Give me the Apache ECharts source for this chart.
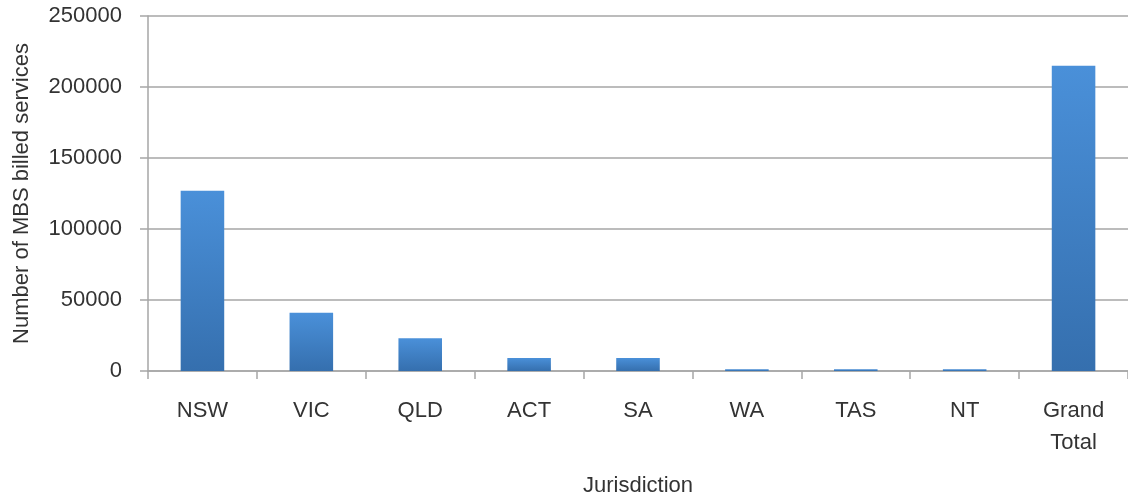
<!DOCTYPE html>
<html>
<head>
<meta charset="utf-8">
<script src="https://cdn.jsdelivr.net/npm/echarts@6/dist/echarts.min.js"></script>
<style>
  html, body { margin: 0; padding: 0; background: #fff; }
  #chart { width: 1128px; height: 499px; }
</style>
</head>
<body>
<div id="chart"></div>
<script>
// jurisdictions and billed service counts
var categories = ['NSW', 'VIC', 'QLD', 'ACT', 'SA', 'WA', 'TAS', 'NT', 'Grand\nTotal'];
var services = [127000, 41000, 23000, 9200, 9200, 1300, 1300, 1300, 215000];
var yTicks = [0, 50000, 100000, 150000, 200000, 250000];

var chart = echarts.init(document.getElementById('chart'));

var textColor = '#333333';
var lineColor = '#a6a6a6';

var option = {
  animation: false,
  grid: {
    left: 148,
    right: 0,
    top: 16,
    bottom: 128,
    outerBoundsMode: 'none'
  },
  xAxis: {
    type: 'category',
    data: categories,
    name: 'Jurisdiction',
    nameLocation: 'middle',
    nameGap: 104,
    nameTextStyle: {
      fontFamily: 'Liberation Sans',
      fontSize: 22,
      color: textColor
    },
    axisLine: { lineStyle: { color: lineColor, width: 1.5 } },
    axisTick: {
      show: true,
      alignWithLabel: false,
      length: 8,
      lineStyle: { color: lineColor, width: 1.5 }
    },
    axisLabel: {
      margin: 24,
      fontFamily: 'Liberation Sans',
      fontSize: 22,
      lineHeight: 32,
      color: textColor
    }
  },
  yAxis: {
    type: 'value',
    min: yTicks[0],
    max: yTicks[yTicks.length - 1],
    interval: yTicks[1] - yTicks[0],
    name: 'Number of MBS billed services',
    nameLocation: 'middle',
    nameGap: 115,
    nameTextStyle: {
      fontFamily: 'Liberation Sans',
      fontSize: 22,
      color: textColor
    },
    axisLine: { show: true, lineStyle: { color: lineColor, width: 1.5 } },
    axisTick: {
      show: true,
      length: 8,
      lineStyle: { color: lineColor, width: 1.5 }
    },
    splitLine: { show: true, lineStyle: { color: lineColor, width: 1.5 } },
    axisLabel: {
      margin: 26,
      fontFamily: 'Liberation Sans',
      fontSize: 22,
      color: textColor,
      formatter: function (v) { return String(v); }
    }
  },
  series: [
    {
      type: 'bar',
      data: services,
      barWidth: '40%',
      itemStyle: {
        color: new echarts.graphic.LinearGradient(0, 0, 0, 1, [
          { offset: 0, color: '#4a90d9' },
          { offset: 1, color: '#356fae' }
        ])
      }
    }
  ]
};

chart.setOption(option);
</script>
</body>
</html>
